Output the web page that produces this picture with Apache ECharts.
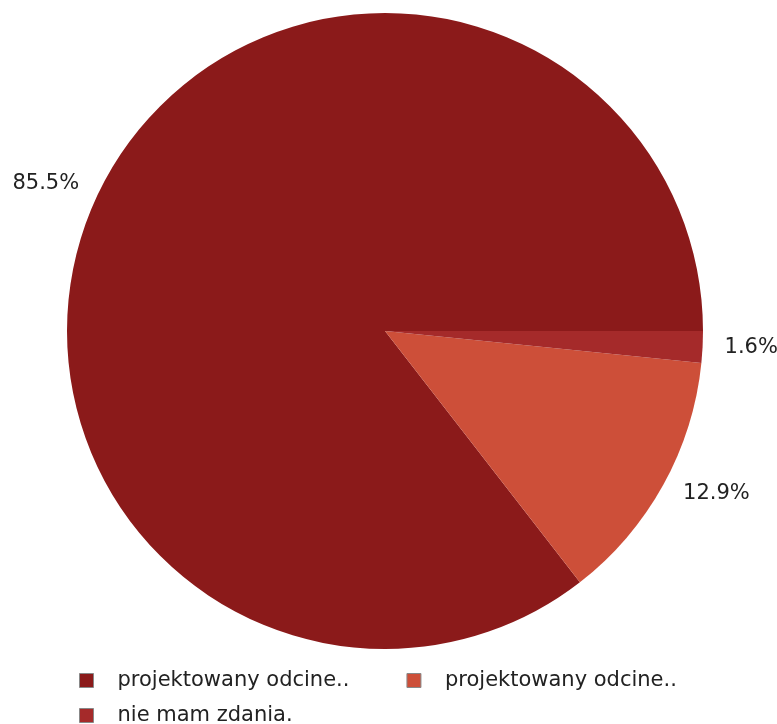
<!DOCTYPE html>
<html><head><meta charset="utf-8">
<script src="https://cdn.jsdelivr.net/npm/echarts@6/dist/echarts.min.js"></script>
<style>html,body{margin:0;padding:0;background:#fff}#c{width:777px;height:724px}</style>
</head><body><div id="c"></div>
<script>
const categories = ['projektowany odcine..', 'projektowany odcine..', 'nie mam zdania.'];
const values = [85.5, 12.9, 1.6];
const colors = ['#8B1A1A', '#CD4F39', '#A52A2A'];

const chart = echarts.init(document.getElementById('c'), null, {renderer: 'canvas'});
const data = categories.map((c, i) => ({name: c + '#' + i, value: values[i], itemStyle: {color: colors[i]}}));
chart.setOption({
  animation: false,
  legend: {
    left: 79, top: 670, width: 670, padding: 0,
    itemWidth: 14, itemHeight: 14, itemGap: 14,
    icon: 'rect',
    itemStyle: {borderColor: '#888', borderWidth: 1},
    formatter: n => n.replace(/#\d+$/, ''),
    textStyle: {fontFamily: 'DejaVu Sans', fontSize: 21, color: '#222', lineHeight: 20, padding: [0, 43, 0, 19]},
    data: data.map(d => d.name)
  },
  series: [{
    type: 'pie',
    center: [385, 331], radius: [0, 318],
    startAngle: 0, clockwise: false,
    percentPrecision: 1,
    avoidLabelOverlap: false,
    data: data,
    label: {show: true, position: 'outside', formatter: '{d}%', fontFamily: 'DejaVu Sans', fontSize: 21, color: '#222'},
    labelLine: {show: false, length: 17, length2: 0},
    emphasis: {disabled: true}
  }]
});
</script></body></html>
